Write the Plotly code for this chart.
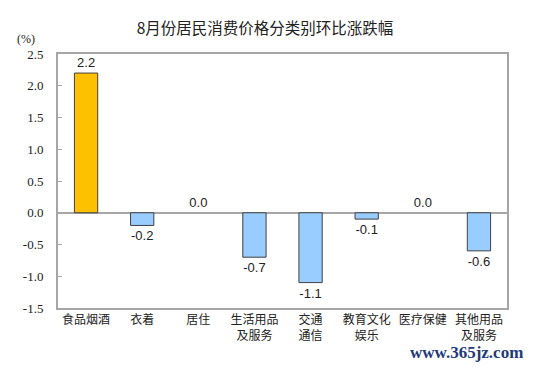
import plotly.graph_objects as go

categories = ["食品烟酒", "衣着", "居住", "生活用品<br>及服务", "交通<br>通信", "教育文化<br>娱乐", "医疗保健", "其他用品<br>及服务"]
values = [2.2, -0.2, 0.0, -0.7, -1.1, -0.1, 0.0, -0.6]
labels = ["2.2", "-0.2", "0.0", "-0.7", "-1.1", "-0.1", "0.0", "-0.6"]
tick_vals = [2.5, 2.0, 1.5, 1.0, 0.5, 0.0, -0.5, -1.0, -1.5]
tick_text = ["2.5", "2.0", "1.5", "1.0", "0.5", "0.0", "-0.5", "-1.0", "-1.5"]

colors = ["#FFC000"] + ["#99CCFF"] * (len(values) - 1)
line_widths = [0 if v == 0 else 1 for v in values]

fig = go.Figure()
fig.add_trace(go.Bar(
    x=categories, y=values, text=labels, textposition="outside",
    marker=dict(color=colors, line=dict(color="#404040", width=line_widths)),
    textfont=dict(family="Liberation Sans, Arial", size=13, color="#222222"),
    cliponaxis=False, hoverinfo="skip",
))

fig.update_layout(
    width=533, height=367,
    margin=dict(l=58, r=26, t=54, b=59, autoexpand=False),
    paper_bgcolor="white", plot_bgcolor="white",
    bargap=0.585, showlegend=False,
    title=dict(text="8月份居民消费价格分类别环比涨跌幅", x=265/533, xref="container", y=1 - 29/367, yref="container",
               xanchor="center", yanchor="middle",
               font=dict(family="Noto Sans CJK SC", size=15.5, color="#222222")),
)
fig.update_xaxes(
    showline=True, linecolor="#A6A6A6", linewidth=2, mirror=True,
    ticks="", tickfont=dict(family="Noto Sans CJK SC", size=12, color="#222222"),
    showgrid=False, fixedrange=True, automargin=False,
)
fig.update_yaxes(
    range=[-1.5, 2.5], tickvals=tick_vals, ticktext=tick_text,
    showline=True, linecolor="#A6A6A6", linewidth=2, mirror=True,
    ticks="inside", ticklen=4, tickcolor="#A6A6A6",
    tickfont=dict(family="Liberation Serif, Times New Roman", size=13, color="#222222"),
    ticklabelstandoff=10, automargin=False,
    showgrid=False, zeroline=True, zerolinecolor="#A6A6A6", zerolinewidth=2,
    fixedrange=True,
)
fig.add_annotation(text="(%)", xref="paper", yref="paper", x=-0.047, y=1.0 + 15/254,
                   xanchor="right", yanchor="middle", showarrow=False,
                   font=dict(family="Liberation Serif, Times New Roman", size=12, color="#222222"))
fig.add_annotation(text="<b>www.365jz.com</b>", xref="paper", yref="paper", x=(525 - 58) / 449, y=-44/254,
                   xanchor="right", yanchor="middle", showarrow=False,
                   font=dict(family="Liberation Serif, Times New Roman", size=17, color="#1F3A7A"))

fig.write_html("out.html", config={"displayModeBar": False, "staticPlot": True},
               post_script="document.body.style.margin='0';document.body.style.overflow='hidden';")
